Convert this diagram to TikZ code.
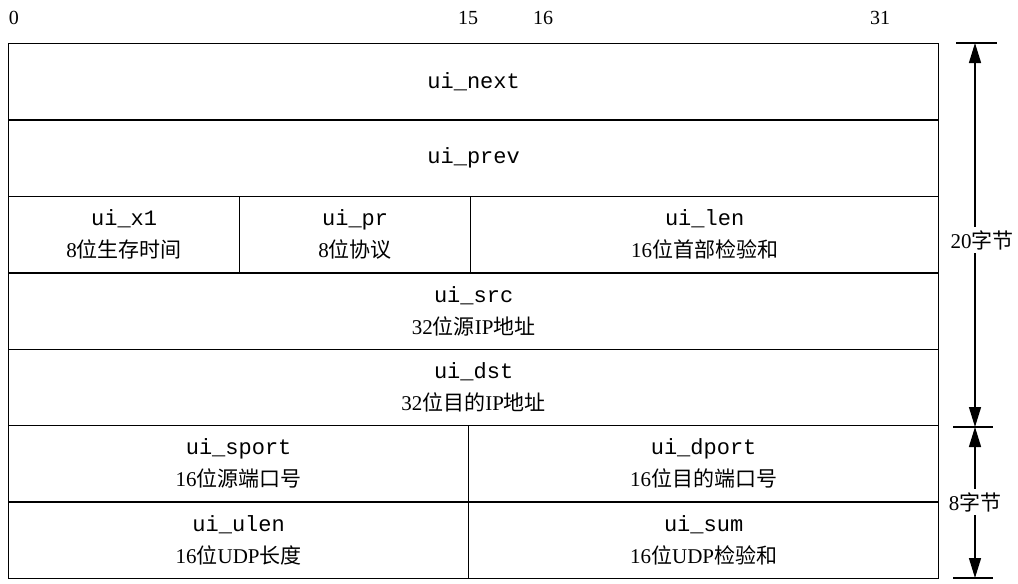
\documentclass[tikz,border=0pt]{standalone}
\usepackage{fontspec}
\setmainfont{Liberation Serif}
\setmonofont{Liberation Mono}
\newfontfamily\cjk{Noto Sans CJK SC}
\usetikzlibrary{arrows.meta}
\newcommand{\fld}[1]{{\fontsize{22}{32}\selectfont\texttt{#1}}}

\begin{document}
\begin{tikzpicture}[x=1pt, y=-1pt, line width=1.3pt,
  field/.style={draw, anchor=north west, inner sep=0pt, align=center,
    minimum height=76.4pt, font=\fontsize{21}{32}\selectfont},
  bitno/.style={font=\fontsize{20}{24}\selectfont},
  size/.style={font=\fontsize{21}{24}\selectfont, inner sep=3pt},
  dim/.style={-{Triangle[length=20pt, width=12pt]}, line width=1.4pt},
  tick/.style={line width=1.3pt}]

\useasboundingbox (0,0) rectangle (1018,584);

% Номера битов
\node[bitno] (b0)  at (14,18)  {0};
\node[bitno] (b15) at (468,18) {15};
\node[bitno] (b16) at (543,18) {16};
\node[bitno] (b31) at (880,18) {31};

% Поля
\node[field, minimum width=930pt] (next) at (8,43)    {\fld{ui\_next}};
\node[field, minimum width=930pt] (prev) at (8,119.4) {\fld{ui\_prev}};
\node[field, minimum width=231pt] (x1)   at (8,195.8)   {\fld{ui\_x1}\\8{\cjk 位生存时间}};
\node[field, minimum width=231pt] (pr)   at (239,195.8) {\fld{ui\_pr}\\8{\cjk 位协议}};
\node[field, minimum width=468pt] (len)  at (470,195.8) {\fld{ui\_len}\\16{\cjk 位首部检验和}};
\node[field, minimum width=930pt] (src)  at (8,272.2) {\fld{ui\_src}\\32{\cjk 位源}IP{\cjk 地址}};
\node[field, minimum width=930pt] (dst)  at (8,348.6) {\fld{ui\_dst}\\32{\cjk 位目的}IP{\cjk 地址}};
\node[field, minimum width=460pt] (sport) at (8,425)   {\fld{ui\_sport}\\16{\cjk 位源端口号}};
\node[field, minimum width=470pt] (dport) at (468,425) {\fld{ui\_dport}\\16{\cjk 位目的端口号}};
\node[field, minimum width=460pt] (ulen)  at (8,501.4)   {\fld{ui\_ulen}\\16{\cjk 位}UDP{\cjk 长度}};
\node[field, minimum width=470pt] (sum)   at (468,501.4) {\fld{ui\_sum}\\16{\cjk 位}UDP{\cjk 检验和}};

% Размеры справа
\coordinate (t20) at (975,43);
\coordinate (m8)  at (975,427);
\coordinate (e8)  at (975,578);
\draw[tick] (956,43) -- (997,43);
\draw[tick] (953,427) -- (993,427);
\draw[tick] (953,578) -- (993,578);

\node[size] (lab20) at (982,240) {20{\cjk 字节}};
\node[size] (lab8)  at (975,502) {8{\cjk 字节}};

\draw[dim] (lab20.north -| t20) -- (t20);
\draw[dim] (lab20.south -| t20) -- (m8);
\draw[dim] (lab8.north) -- (m8);
\draw[dim] (lab8.south) -- (e8);

\end{tikzpicture}
\end{document}
